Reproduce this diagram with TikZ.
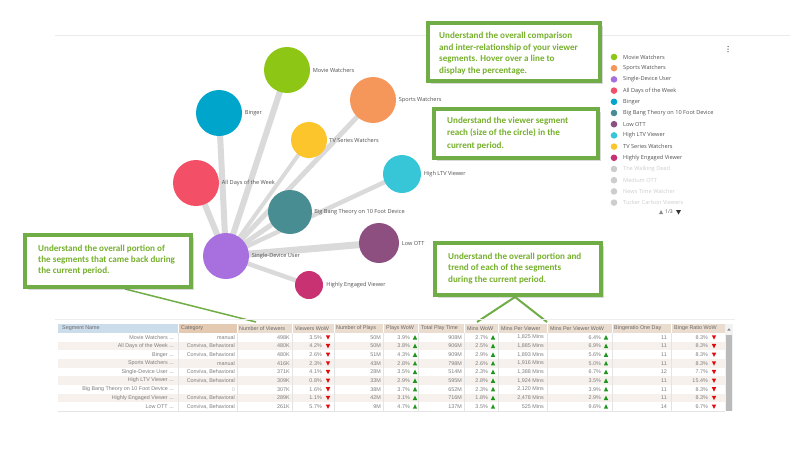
\documentclass[tikz,border=0pt]{standalone}
\usepackage{fontspec}
\setmainfont{Open Sans}
\newfontfamily\tabfont{Liberation Sans}
\newfontfamily\callfont{Carlito}
\usetikzlibrary{backgrounds,shadows}
\definecolor{cMovie}{RGB}{141,198,20}
\definecolor{cSports}{RGB}{245,151,90}
\definecolor{cSingle}{RGB}{167,112,222}
\definecolor{cAllDays}{RGB}{243,80,104}
\definecolor{cBinger}{RGB}{0,165,204}
\definecolor{cBigBang}{RGB}{72,141,146}
\definecolor{cLowOTT}{RGB}{141,78,128}
\definecolor{cHighLTV}{RGB}{54,198,216}
\definecolor{cTV}{RGB}{252,197,44}
\definecolor{cHighly}{RGB}{200,50,115}
\definecolor{cFaded}{RGB}{205,205,205}
\definecolor{cLink}{RGB}{218,218,218}
\definecolor{cGreen}{RGB}{112,173,71}
\definecolor{cCallText}{RGB}{118,176,44}
\definecolor{labgray}{RGB}{80,80,80}
\definecolor{cellgray}{RGB}{125,125,125}
\definecolor{hdrgray}{RGB}{105,105,105}
\definecolor{hdrBlue}{RGB}{203,220,235}
\definecolor{hdrTan}{RGB}{228,202,178}
\definecolor{hdrBeige}{RGB}{234,220,207}
\definecolor{rowShade}{RGB}{246,241,236}
\definecolor{sepgray}{RGB}{228,228,228}
\definecolor{cRed}{RGB}{226,10,10}
\definecolor{cUp}{RGB}{30,150,30}
\newcommand\dntri[2]{\fill[cRed] ({#1-2.2},{#2-2}) -- ({#1+2.2},{#2-2}) -- (#1,{#2+2.3}) -- cycle;}
\newcommand\uptri[2]{\fill[cUp] ({#1-2.2},{#2+2.2}) -- ({#1+2.2},{#2+2.2}) -- (#1,{#2-2.3}) -- cycle;}
\newcommand\rowA[7]{%
  \pgfmathsetmacro\ry{333+8.65*(#1-0.5)}%
  \node[cell] (n#1) at (174,\ry) {#2};
  \node[cell] (c#1) at (235,\ry) {#3};
  \node[cell] (v#1) at (290,\ry) {#4};
  \node[cell] (vw#1) at (322,\ry) {#5};
  \dntri{328}{\ry}
  \node[cell] (p#1) at (381,\ry) {#6};
  \node[cell] (pw#1) at (410,\ry) {#7};
  \uptri{415}{\ry}
}
\newcommand\rowB[7]{%
  \pgfmathsetmacro\ry{333+8.65*(#1-0.5)}%
  \node[cell] (t#1) at (462,\ry) {#2};
  \node[cell] (mw#1) at (488,\ry) {#3};
  \uptri{493}{\ry}
  \node[cell] (m#1) at (544,\ry) {#4};
  \node[cell] (mv#1) at (601,\ry) {#5};
  \uptri{606}{\ry}
  \node[cell] (b#1) at (667,\ry) {#6};
  \node[cell] (bw#1) at (708,\ry) {#7};
  \dntri{714}{\ry}
}
\begin{document}
\begin{tikzpicture}[x=1pt,y=-1pt,
  bub/.style={circle,inner sep=0pt,minimum size=#1},
  glabel/.style={font={\fontsize{5.6}{6.5}\selectfont},text=labgray,inner sep=0pt},
  link/.style={draw=cLink,line width=#1},
  callbox/.style={draw=cGreen,line width=4pt,fill=white,inner sep=0pt,
    drop shadow={shadow xshift=2.5pt,shadow yshift=-2.5pt,opacity=0.3}},
  calltext/.style={font={\callfont\bfseries\fontsize{9.1}{#1}\selectfont},text=cCallText,
    align=left,inner sep=0pt,anchor=north west},
  pointer/.style={draw=cGreen,line width=#1},
  cell/.style={font={\tabfont\fontsize{5.4}{6}\selectfont},text=cellgray,inner sep=0pt,anchor=east},
  hcell/.style={font={\tabfont\fontsize{5.4}{6}\selectfont},text=hdrgray,inner sep=0pt,anchor=west},
  lgtext/.style={font={\fontsize{5.6}{6.5}\selectfont},text=labgray,inner sep=0pt,anchor=west}]
\useasboundingbox (0,0) rectangle (800,450);

% card top border
\draw[draw=black!8,line width=0.6pt] (55,35) -- (790,35);

% ---------- bubble graph ----------
\node[bub=46,fill=cMovie,label={[glabel,label distance=2.5pt]right:Movie Watchers}] (movie) at (287,70) {};
\node[bub=46,fill=cBinger,label={[glabel,label distance=2.5pt]right:Binger}] (binger) at (219,113) {};
\node[bub=46,fill=cSports,label={[glabel,label distance=2.5pt]right:Sports Watchers}] (sports) at (373,100) {};
\node[bub=36,fill=cTV,label={[glabel,label distance=2pt]right:TV Series Watchers}] (tv) at (309,140) {};
\node[bub=46,fill=cAllDays,label={[glabel,label distance=2.5pt]right:All Days of the Week}] (alldays) at (196,183) {};
\node[bub=38,fill=cHighLTV,label={[glabel,label distance=2.5pt]right:High LTV Viewer}] (highltv) at (402,174) {};
\node[bub=44,fill=cBigBang,label={[glabel,label distance=2pt]right:Big Bang Theory on 10 Foot Device}] (bigbang) at (290,212) {};
\node[bub=40,fill=cLowOTT,label={[glabel,label distance=2.5pt]right:Low OTT}] (lowott) at (379,243) {};
\node[bub=46,fill=cSingle,label={[glabel,label distance=2.5pt]right:Single-Device User}] (sdu) at (226,256) {};
\node[bub=28,fill=cHighly,label={[glabel,label distance=3pt]right:Highly Engaged Viewer}] (highly) at (309,285) {};
\begin{pgfonlayer}{background}
\draw[link=6] (sdu.center) -- (movie.center);
\draw[link=6] (sdu.center) -- (binger.center);
\draw[link=6] (sdu.center) -- (alldays.center);
\draw[link=5] (sdu.center) -- (sports.center);
\draw[link=4] (sdu.center) -- (tv.center);
\draw[link=5] (sdu.center) -- (bigbang.center);
\draw[link=4.5] (sdu.center) -- (highltv.center);
\draw[link=7] (sdu.center) -- (lowott.center);
\draw[link=4.5] (sdu.center) -- (highly.center);
\end{pgfonlayer}

% ---------- legend ----------
\begin{scope}
\clip (600,45) rectangle (760,205.5);
\foreach \i/\c/\t in {1/cMovie/Movie Watchers,2/cSports/Sports Watchers,3/cSingle/Single-Device User,
  4/cAllDays/All Days of the Week,5/cBinger/Binger,6/cBigBang/Big Bang Theory on 10 Foot Device,
  7/cLowOTT/Low OTT,8/cHighLTV/High LTV Viewer,9/cTV/TV Series Watchers,10/cHighly/Highly Engaged Viewer}{
  \fill[\c] (614,{57+11.2*(\i-1)}) circle (3.3);
  \node[lgtext] (lg\i) at (623,{57+11.2*(\i-1)}) {\t};
}
\foreach \i/\t in {11/The Walking Dead,12/Medium OTT,13/News Time Watcher,14/Tucker Carlson Viewers}{
  \fill[cFaded] (614,{57+11.2*(\i-1)}) circle (3.3);
  \node[lgtext,text=cFaded] (lg\i) at (623,{57+11.2*(\i-1)}) {\t};
}
\end{scope}
\node[font={\fontsize{5}{6}\selectfont},text=labgray,inner sep=0pt] (page) at (669,212) {1/3};
\fill[black!45] (659,214) -- (663,214) -- (661,210) -- cycle;
\fill[black!80] (676,210) -- (681,210) -- (678.5,214.5) -- cycle;
\foreach \k in {0,1,2}{\fill[black!55] (728,{46.5+2.6*\k}) circle (0.75);}

% ---------- table ----------
\draw[draw=black!7,line width=0.5pt] (55,319.5) -- (735,319.5);
\fill[hdrBlue] (58,324) rectangle (178,332.6);
\fill[hdrTan] (178,324) rectangle (237,332.6);
\fill[hdrBeige] (237,324) rectangle (725,332.6);
\foreach \i in {2,4,6,8}{\fill[rowShade] (58,{333+8.65*(\i-1)}) rectangle (725,{333+8.65*\i});}
\foreach \x in {178,237,292,334,383,418,464,498,547,612,671}{
  \draw[draw=white,line width=0.7pt] (\x,324) -- (\x,332.6);
  \draw[draw=sepgray,line width=0.5pt] (\x,333) -- (\x,411);
}
\draw[draw=sepgray,line width=0.5pt] (58,411) -- (725,411);
% scrollbar
\fill[black!5] (725,324) rectangle (733,411);
\fill[black!27] (726,335) rectangle (732,411);
\fill[black!45] (727.3,330.5) -- (730.7,330.5) -- (729,328.2) -- cycle;

\node[hcell] (h1) at (62,328.3) {Segment Name};
\node[hcell] (h2) at (181,328.3) {Category};
\node[hcell] (h3) at (239,328.3) {Number of Viewers};
\node[hcell] (h4) at (295,328.3) {Viewers WoW};
\node[hcell] (h5) at (336,328.3) {Number of Plays};
\node[hcell] (h6) at (386,328.3) {Plays WoW};
\node[hcell] (h7) at (421,328.3) {Total Play Time};
\node[hcell] (h8) at (467,328.3) {Mins WoW};
\node[hcell] (h9) at (501,328.3) {Mins Per Viewer};
\node[hcell] (h10) at (550,328.3) {Mins Per Viewer WoW};
\node[hcell] (h11) at (614,328.3) {Bingeratio One Day};
\node[hcell] (h12) at (674,328.3) {Binge Ratio WoW};

\rowA{1}{Movie Watchers ...}{manual}{498K}{3.5\%}{50M}{3.9\%}
\rowA{2}{All Days of the Week ...}{Conviva, Behavioral}{480K}{4.2\%}{50M}{3.8\%}
\rowA{3}{Binger ...}{Conviva, Behavioral}{480K}{2.6\%}{51M}{4.3\%}
\rowA{4}{Sports Watchers ...}{manual}{416K}{2.3\%}{43M}{2.8\%}
\rowA{5}{Single-Device User ...}{Conviva, Behavioral}{371K}{4.1\%}{28M}{3.5\%}
\rowA{6}{High LTV Viewer ...}{Conviva, Behavioral}{309K}{0.8\%}{33M}{2.9\%}
\rowA{7}{Big Bang Theory on 10 Foot Device ...}{\textcolor{black!25}{0}}{307K}{1.6\%}{38M}{3.7\%}
\rowA{8}{Highly Engaged Viewer ...}{Conviva, Behavioral}{289K}{1.1\%}{42M}{3.1\%}
\rowA{9}{Low OTT ...}{Conviva, Behavioral}{261K}{5.7\%}{9M}{4.7\%}
\rowB{1}{908M}{2.7\%}{1,825 Mins}{6.4\%}{11}{8.3\%}
\rowB{2}{906M}{2.5\%}{1,885 Mins}{6.9\%}{11}{8.3\%}
\rowB{3}{909M}{2.9\%}{1,893 Mins}{5.6\%}{11}{8.3\%}
\rowB{4}{798M}{2.6\%}{1,916 Mins}{5.0\%}{11}{8.3\%}
\rowB{5}{514M}{2.3\%}{1,388 Mins}{6.7\%}{12}{7.7\%}
\rowB{6}{595M}{2.8\%}{1,924 Mins}{3.5\%}{11}{15.4\%}
\rowB{7}{652M}{2.3\%}{2,120 Mins}{3.9\%}{11}{8.3\%}
\rowB{8}{716M}{1.8\%}{2,478 Mins}{2.9\%}{11}{8.3\%}
\rowB{9}{137M}{3.5\%}{525 Mins}{9.6\%}{14}{6.7\%}

% ---------- callouts ----------
\coordinate (p3) at (256,322);
\coordinate (p4a) at (477,322);
\coordinate (p4b) at (547,322);
\node[callbox,minimum width=166pt,minimum height=52pt] (box3) at (108,261) {};
\node[callbox,minimum width=166pt,minimum height=52pt] (box4) at (518,269) {};
\begin{pgfonlayer}{background}
\draw[pointer=1.5pt] ([xshift=17pt]box3.south) -- (p3);
\draw[pointer=2pt] ([xshift=-3pt]box4.south) -- (p4a);
\draw[pointer=2pt] ([xshift=-3pt]box4.south) -- (p4b);
\end{pgfonlayer}
\node[callbox,minimum width=172pt,minimum height=58pt] (box1) at (514,52) {};
\node[callbox,minimum width=164pt,minimum height=49pt] (box2) at (516,133.5) {};

\node[calltext=11.7] (t1) at (439,31.8) {Understand the overall comparison\\and inter-relationship of your viewer\\segments. Hover over a line to\\display the percentage.};
\node[calltext=12.5] (t2) at (447,116.8) {Understand the viewer segment\\reach (size of the circle) in the\\current period.};
\node[calltext=11] (t3) at (38,244.8) {Understand the overall portion of\\the segments that came back during\\the current period.};
\node[calltext=11.3] (t4) at (448,252.8) {Understand the overall portion and\\trend of each of the segments\\during the current period.};
\end{tikzpicture}
\end{document}
